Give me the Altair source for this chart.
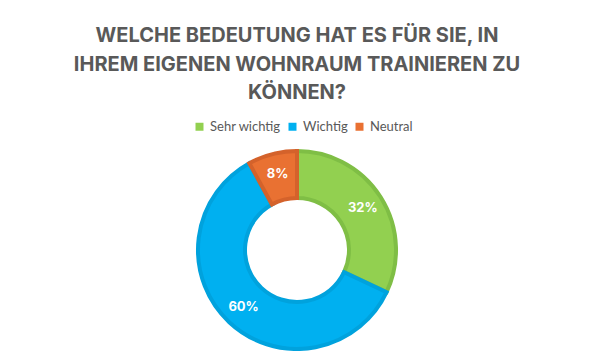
import altair as alt
import pandas as pd

categories = ["Sehr wichtig", "Wichtig", "Neutral"]
values = [32, 60, 8]
labels = ["32%", "60%", "8%"]
fill_colors = ["#92D050", "#00B0F0", "#E97132"]
stroke_colors = ["#7FBE45", "#00A2DD", "#D4622B"]

df = pd.DataFrame({
    "Kategorie": categories,
    "Wert": values,
    "Label": labels,
    "Reihenfolge": list(range(len(categories))),
})

base = alt.Chart(df).encode(
    theta=alt.Theta("Wert:Q", stack=True),
    order=alt.Order("Reihenfolge:O"),
)

arcs = base.mark_arc(outerRadius=99, innerRadius=52, strokeWidth=4).encode(
    color=alt.Color(
        "Kategorie:N",
        scale=alt.Scale(domain=categories, range=fill_colors),
        sort=categories,
        legend=alt.Legend(
            title=None,
            orient="none",
            direction="horizontal",
            legendX=185,
            legendY=-29,
            symbolType="square",
            symbolSize=64,
            symbolStrokeWidth=0,
            labelFontSize=13,
            labelFont="Lato",
            labelColor="#595959",
            labelOffset=4,
            columnPadding=5,
        ),
    ),
    stroke=alt.Stroke(
        "Kategorie:N",
        scale=alt.Scale(domain=categories, range=stroke_colors),
        legend=None,
    ),
)

text = base.mark_text(
    radius=78, fontSize=13, fontWeight="bold", font="Inter", color="white"
).encode(text="Label:N")

chart = (
    alt.layer(arcs, text)
    .properties(
        width=578,
        height=202,
        padding={"left": 0, "top": 141, "right": 0, "bottom": 0},
        autosize=alt.AutoSizeParams(type="none"),
        title=alt.TitleParams(
            text=[
                "WELCHE BEDEUTUNG HAT ES FÜR SIE, IN",
                "IHREM EIGENEN WOHNRAUM TRAINIEREN ZU",
                "KÖNNEN?",
            ],
            anchor="middle",
            font="Inter",
            fontSize=20,
            fontWeight="bold",
            color="#595959",
            lineHeight=28.5,
            offset=17,
        ),
    )
    .configure_view(stroke=None)
)

chart.save("out.html", embed_options={"renderer": "svg", "actions": False})
